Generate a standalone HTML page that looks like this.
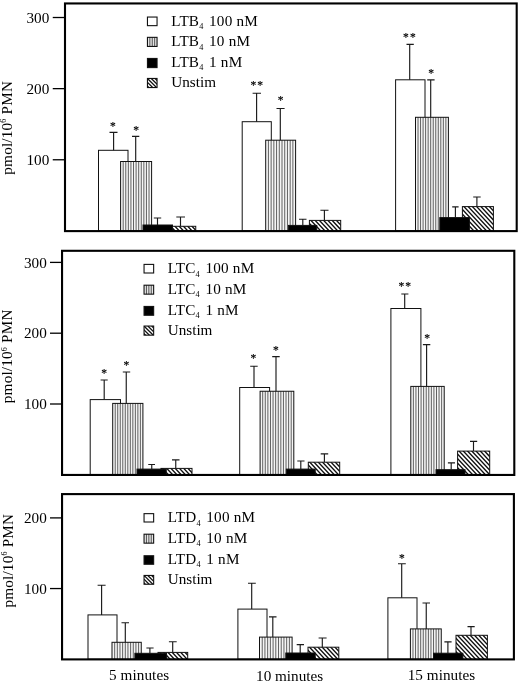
<!DOCTYPE html>
<html lang="en">
<head>
<meta charset="utf-8">
<title>Leukotriene stimulation chart</title>
<style>
html,body{margin:0;padding:0;background:#fff;}
body{width:520px;height:683px;overflow:hidden;}
svg{display:block;font-family:"Liberation Serif", "DejaVu Serif", serif;font-size:15.2px;fill:#000;}
</style>
</head>
<body>
<svg width="520" height="683" viewBox="0 0 520 683">
<rect width="520" height="683" fill="#fff"/>
<g id="panel1">
<clipPath id="hc1"><rect x="165" y="226.3" width="30.75" height="4.6"/></clipPath>
<rect x="165" y="226.3" width="30.75" height="4.6" fill="#fff"/>
<path clip-path="url(#hc1)" d="M157.07 225.3L163.23 231.9M161.32 225.3L167.48 231.9M165.57 225.3L171.73 231.9M169.82 225.3L175.98 231.9M174.07 225.3L180.23 231.9M178.32 225.3L184.48 231.9M182.57 225.3L188.73 231.9M186.82 225.3L192.98 231.9M191.07 225.3L197.23 231.9M195.32 225.3L201.48 231.9" stroke="#111" stroke-width="1.38" fill="none"/>
<rect x="165" y="226.3" width="30.75" height="4.6" fill="none" stroke="#111" stroke-width="1"/>
<rect x="98.5" y="150.3" width="29.5" height="80.6" fill="#fff" stroke="#111" stroke-width="1"/>
<rect x="120.6" y="161.5" width="31" height="69.4" fill="#f5f5f5"/>
<path d="M123.18 161.5V230.9M125.77 161.5V230.9M128.35 161.5V230.9M130.93 161.5V230.9M133.52 161.5V230.9M136.1 161.5V230.9M138.68 161.5V230.9M141.27 161.5V230.9M143.85 161.5V230.9M146.43 161.5V230.9M149.02 161.5V230.9" stroke="#606060" stroke-width="1" fill="none"/>
<rect x="120.6" y="161.5" width="31" height="69.4" fill="none" stroke="#111" stroke-width="1"/>
<rect x="143" y="225" width="29.5" height="5.9" fill="#000" stroke="#111" stroke-width="1"/>
<path d="M180.5 226.3V217M176.3 217H185" stroke="#1a1a1a" stroke-width="1.15" fill="none"/>
<path d="M113.6 150.3V132.3M109.5 132.3H117.5" stroke="#1a1a1a" stroke-width="1.15" fill="none"/>
<text x="113.36" y="130" text-anchor="middle" font-size="11.5" stroke="#000" stroke-width="0.2" letter-spacing="1.15">*</text>
<path d="M135.7 161.5V136.3M132 136.3H139.3" stroke="#1a1a1a" stroke-width="1.15" fill="none"/>
<text x="136.6" y="134" text-anchor="middle" font-size="11.5" stroke="#000" stroke-width="0.2" letter-spacing="1.15">*</text>
<path d="M157.5 225V218M153.8 218H161.2" stroke="#1a1a1a" stroke-width="1.15" fill="none"/>
<clipPath id="hc2"><rect x="309.4" y="220.4" width="31.3" height="10.5"/></clipPath>
<rect x="309.4" y="220.4" width="31.3" height="10.5" fill="#fff"/>
<path clip-path="url(#hc2)" d="M297.22 219.4L308.9 231.9M301.47 219.4L313.15 231.9M305.72 219.4L317.4 231.9M309.97 219.4L321.65 231.9M314.22 219.4L325.9 231.9M318.47 219.4L330.15 231.9M322.72 219.4L334.4 231.9M326.97 219.4L338.65 231.9M331.22 219.4L342.9 231.9M335.47 219.4L347.15 231.9M339.72 219.4L351.4 231.9" stroke="#111" stroke-width="1.38" fill="none"/>
<rect x="309.4" y="220.4" width="31.3" height="10.5" fill="none" stroke="#111" stroke-width="1"/>
<rect x="242.2" y="121.7" width="29.1" height="109.2" fill="#fff" stroke="#111" stroke-width="1"/>
<rect x="265.7" y="140.2" width="29.9" height="90.7" fill="#f5f5f5"/>
<path d="M268.42 140.2V230.9M271.14 140.2V230.9M273.85 140.2V230.9M276.57 140.2V230.9M279.29 140.2V230.9M282.01 140.2V230.9M284.73 140.2V230.9M287.45 140.2V230.9M290.16 140.2V230.9M292.88 140.2V230.9" stroke="#606060" stroke-width="1" fill="none"/>
<rect x="265.7" y="140.2" width="29.9" height="90.7" fill="none" stroke="#111" stroke-width="1"/>
<rect x="288.4" y="225.4" width="28.4" height="5.5" fill="#000" stroke="#111" stroke-width="1"/>
<path d="M324.4 220.4V210.2M320.4 210.2H328.5" stroke="#1a1a1a" stroke-width="1.15" fill="none"/>
<path d="M256.6 121.7V93.2M252.6 93.2H261" stroke="#1a1a1a" stroke-width="1.15" fill="none"/>
<text x="257.3" y="89.1" text-anchor="middle" font-size="11.5" stroke="#000" stroke-width="0.2" letter-spacing="1.15">**</text>
<path d="M280.3 140.2V108.5M276.5 108.5H284.6" stroke="#1a1a1a" stroke-width="1.15" fill="none"/>
<text x="281.2" y="103.5" text-anchor="middle" font-size="11.5" stroke="#000" stroke-width="0.2" letter-spacing="1.15">*</text>
<path d="M302.8 225.4V219.2M299 219.2H306.5" stroke="#1a1a1a" stroke-width="1.15" fill="none"/>
<clipPath id="hc3"><rect x="462.4" y="206.6" width="31" height="24.3"/></clipPath>
<rect x="462.4" y="206.6" width="31" height="24.3" fill="#fff"/>
<path clip-path="url(#hc3)" d="M437.47 205.6L462.04 231.9M441.72 205.6L466.29 231.9M445.97 205.6L470.54 231.9M450.22 205.6L474.79 231.9M454.47 205.6L479.04 231.9M458.72 205.6L483.29 231.9M462.97 205.6L487.54 231.9M467.22 205.6L491.79 231.9M471.47 205.6L496.04 231.9M475.72 205.6L500.29 231.9M479.97 205.6L504.54 231.9M484.22 205.6L508.79 231.9M488.47 205.6L513.04 231.9M492.72 205.6L517.29 231.9" stroke="#111" stroke-width="1.38" fill="none"/>
<rect x="462.4" y="206.6" width="31" height="24.3" fill="none" stroke="#111" stroke-width="1"/>
<rect x="395.6" y="79.8" width="29.4" height="151.1" fill="#fff" stroke="#111" stroke-width="1"/>
<rect x="415.5" y="117.3" width="32.9" height="113.6" fill="#f5f5f5"/>
<path d="M418.03 117.3V230.9M420.56 117.3V230.9M423.09 117.3V230.9M425.62 117.3V230.9M428.15 117.3V230.9M430.68 117.3V230.9M433.22 117.3V230.9M435.75 117.3V230.9M438.28 117.3V230.9M440.81 117.3V230.9M443.34 117.3V230.9M445.87 117.3V230.9" stroke="#606060" stroke-width="1" fill="none"/>
<rect x="415.5" y="117.3" width="32.9" height="113.6" fill="none" stroke="#111" stroke-width="1"/>
<rect x="439.8" y="217.6" width="29.6" height="13.3" fill="#000" stroke="#111" stroke-width="1"/>
<path d="M476.9 206.6V197M473.2 197H480.7" stroke="#1a1a1a" stroke-width="1.15" fill="none"/>
<path d="M409.7 79.8V44.3M406.5 44.3H413.8" stroke="#1a1a1a" stroke-width="1.15" fill="none"/>
<text x="410" y="40.5" text-anchor="middle" font-size="11.5" stroke="#000" stroke-width="0.2" letter-spacing="1.15">**</text>
<path d="M430.7 117.3V79.9M427.2 79.9H434.6" stroke="#1a1a1a" stroke-width="1.15" fill="none"/>
<text x="431.6" y="77.1" text-anchor="middle" font-size="11.5" stroke="#000" stroke-width="0.2" letter-spacing="1.15">*</text>
<path d="M455.4 217.6V206.9M452.2 206.9H458.6" stroke="#1a1a1a" stroke-width="1.15" fill="none"/>
<rect x="65" y="3.45" width="451.7" height="227.65" fill="none" stroke="#000" stroke-width="2.1"/>
<line x1="52.75" y1="159.77" x2="65" y2="159.77" stroke="#000" stroke-width="1.3"/>
<text x="49.3" y="164.87" text-anchor="end">100</text>
<line x1="52.75" y1="88.64" x2="65" y2="88.64" stroke="#000" stroke-width="1.3"/>
<text x="49.3" y="93.74" text-anchor="end">200</text>
<line x1="52.75" y1="17.51" x2="65" y2="17.51" stroke="#000" stroke-width="1.3"/>
<text x="49.3" y="22.61" text-anchor="end">300</text>
<text transform="translate(11.8 127.8) rotate(-90)" text-anchor="middle" letter-spacing="0.2">pmol/10<tspan font-size="8" dy="-5.5">6</tspan><tspan dy="5.5"> PMN</tspan></text>
<rect x="147.45" y="17.05" width="9.6" height="8.6" fill="#fff"/>
<rect x="147.45" y="17.05" width="9.6" height="8.6" fill="none" stroke="#111" stroke-width="1.1"/>
<text x="171.3" y="25.9" letter-spacing="0.2">LTB<tspan font-size="8.2" dy="3.4">4</tspan><tspan dy="-3.4" dx="1.6"> 100 nM</tspan></text>
<rect x="147.45" y="37.35" width="9.6" height="9.1" fill="#e4e4e4"/>
<line x1="149.85" y1="37.35" x2="149.85" y2="46.45" stroke="#444" stroke-width="0.9"/><line x1="152.25" y1="37.35" x2="152.25" y2="46.45" stroke="#444" stroke-width="0.9"/><line x1="154.65" y1="37.35" x2="154.65" y2="46.45" stroke="#444" stroke-width="0.9"/>
<rect x="147.45" y="37.35" width="9.6" height="9.1" fill="none" stroke="#111" stroke-width="1.1"/>
<text x="171.3" y="46.1" letter-spacing="0.2">LTB<tspan font-size="8.2" dy="3.4">4</tspan><tspan dy="-3.4" dx="1.6"> 10 nM</tspan></text>
<rect x="147.45" y="58.45" width="9.6" height="9.15" fill="#000"/>
<rect x="147.45" y="58.45" width="9.6" height="9.15" fill="none" stroke="#111" stroke-width="1.1"/>
<text x="171.3" y="67" letter-spacing="0.2">LTB<tspan font-size="8.2" dy="3.4">4</tspan><tspan dy="-3.4" dx="1.6"> 1 nM</tspan></text>
<clipPath id="c1"><rect x="147.45" y="78.45" width="9.6" height="9.1"/></clipPath>
<rect x="147.45" y="78.45" width="9.6" height="9.1" fill="#fff"/>
<g clip-path="url(#c1)" stroke="#111" stroke-width="1.3"><line x1="139.85" y1="78.45" x2="151.85" y2="90.45"/><line x1="143.65" y1="78.45" x2="155.65" y2="90.45"/><line x1="147.45" y1="78.45" x2="159.45" y2="90.45"/><line x1="151.25" y1="78.45" x2="163.25" y2="90.45"/><line x1="155.05" y1="78.45" x2="167.05" y2="90.45"/></g>
<rect x="147.45" y="78.45" width="9.6" height="9.1" fill="none" stroke="#111" stroke-width="1.1"/>
<text x="171.3" y="87" letter-spacing="0">Unstim</text>
</g>
<g id="panel2">
<clipPath id="hc4"><rect x="161" y="468.4" width="31" height="6.4"/></clipPath>
<rect x="161" y="468.4" width="31" height="6.4" fill="#fff"/>
<path clip-path="url(#hc4)" d="M153.07 467.4L160.92 475.8M157.32 467.4L165.17 475.8M161.57 467.4L169.42 475.8M165.82 467.4L173.67 475.8M170.07 467.4L177.92 475.8M174.32 467.4L182.17 475.8M178.57 467.4L186.42 475.8M182.82 467.4L190.67 475.8M187.07 467.4L194.92 475.8M191.32 467.4L199.17 475.8" stroke="#111" stroke-width="1.38" fill="none"/>
<rect x="161" y="468.4" width="31" height="6.4" fill="none" stroke="#111" stroke-width="1"/>
<rect x="90.2" y="399.6" width="30.3" height="75.2" fill="#fff" stroke="#111" stroke-width="1"/>
<rect x="112.7" y="403.4" width="30.2" height="71.4" fill="#f5f5f5"/>
<path d="M115.22 403.4V474.8M117.73 403.4V474.8M120.25 403.4V474.8M122.77 403.4V474.8M125.28 403.4V474.8M127.8 403.4V474.8M130.32 403.4V474.8M132.83 403.4V474.8M135.35 403.4V474.8M137.87 403.4V474.8M140.38 403.4V474.8" stroke="#606060" stroke-width="1" fill="none"/>
<rect x="112.7" y="403.4" width="30.2" height="71.4" fill="none" stroke="#111" stroke-width="1"/>
<rect x="137" y="469.1" width="29.25" height="5.7" fill="#000" stroke="#111" stroke-width="1"/>
<path d="M175.75 468.4V459.8M172 459.8H179.5" stroke="#1a1a1a" stroke-width="1.15" fill="none"/>
<path d="M104.2 399.6V380M100.6 380H107.7" stroke="#1a1a1a" stroke-width="1.15" fill="none"/>
<text x="104.7" y="377" text-anchor="middle" font-size="11.5" stroke="#000" stroke-width="0.2" letter-spacing="1.15">*</text>
<path d="M126.25 403.4V372M122.8 372H130.2" stroke="#1a1a1a" stroke-width="1.15" fill="none"/>
<text x="126.85" y="369" text-anchor="middle" font-size="11.5" stroke="#000" stroke-width="0.2" letter-spacing="1.15">*</text>
<path d="M151.75 469.1V464.5M148.25 464.5H155" stroke="#1a1a1a" stroke-width="1.15" fill="none"/>
<clipPath id="hc5"><rect x="308.3" y="462.2" width="31.4" height="12.6"/></clipPath>
<rect x="308.3" y="462.2" width="31.4" height="12.6" fill="#fff"/>
<path clip-path="url(#hc5)" d="M291.87 461.2L305.51 475.8M296.12 461.2L309.76 475.8M300.37 461.2L314.01 475.8M304.62 461.2L318.26 475.8M308.87 461.2L322.51 475.8M313.12 461.2L326.76 475.8M317.37 461.2L331.01 475.8M321.62 461.2L335.26 475.8M325.87 461.2L339.51 475.8M330.12 461.2L343.76 475.8M334.37 461.2L348.01 475.8M338.62 461.2L352.26 475.8" stroke="#111" stroke-width="1.38" fill="none"/>
<rect x="308.3" y="462.2" width="31.4" height="12.6" fill="none" stroke="#111" stroke-width="1"/>
<rect x="239.7" y="387.5" width="29.9" height="87.3" fill="#fff" stroke="#111" stroke-width="1"/>
<rect x="260.1" y="391.25" width="33.7" height="83.55" fill="#f5f5f5"/>
<path d="M262.69 391.25V474.8M265.28 391.25V474.8M267.88 391.25V474.8M270.47 391.25V474.8M273.06 391.25V474.8M275.65 391.25V474.8M278.25 391.25V474.8M280.84 391.25V474.8M283.43 391.25V474.8M286.02 391.25V474.8M288.62 391.25V474.8M291.21 391.25V474.8" stroke="#606060" stroke-width="1" fill="none"/>
<rect x="260.1" y="391.25" width="33.7" height="83.55" fill="none" stroke="#111" stroke-width="1"/>
<rect x="286.3" y="469.1" width="28.9" height="5.7" fill="#000" stroke="#111" stroke-width="1"/>
<path d="M324.4 462.2V453.8M320.7 453.8H328.2" stroke="#1a1a1a" stroke-width="1.15" fill="none"/>
<path d="M254 387.5V366.2M250.2 366.2H257.7" stroke="#1a1a1a" stroke-width="1.15" fill="none"/>
<text x="254" y="361.75" text-anchor="middle" font-size="11.5" stroke="#000" stroke-width="0.2" letter-spacing="1.15">*</text>
<path d="M276 391.25V356.6M272.2 356.6H279.7" stroke="#1a1a1a" stroke-width="1.15" fill="none"/>
<text x="276.5" y="354.25" text-anchor="middle" font-size="11.5" stroke="#000" stroke-width="0.2" letter-spacing="1.15">*</text>
<path d="M300.8 469.1V461M297.3 461H304.5" stroke="#1a1a1a" stroke-width="1.15" fill="none"/>
<clipPath id="hc6"><rect x="457.6" y="451.1" width="32.1" height="23.7"/></clipPath>
<rect x="457.6" y="451.1" width="32.1" height="23.7" fill="#fff"/>
<path clip-path="url(#hc6)" d="M432.67 450.1L456.68 475.8M436.92 450.1L460.93 475.8M441.17 450.1L465.18 475.8M445.42 450.1L469.43 475.8M449.67 450.1L473.68 475.8M453.92 450.1L477.93 475.8M458.17 450.1L482.18 475.8M462.42 450.1L486.43 475.8M466.67 450.1L490.68 475.8M470.92 450.1L494.93 475.8M475.17 450.1L499.18 475.8M479.42 450.1L503.43 475.8M483.67 450.1L507.68 475.8M487.92 450.1L511.93 475.8" stroke="#111" stroke-width="1.38" fill="none"/>
<rect x="457.6" y="451.1" width="32.1" height="23.7" fill="none" stroke="#111" stroke-width="1"/>
<rect x="390.9" y="308.5" width="30" height="166.3" fill="#fff" stroke="#111" stroke-width="1"/>
<rect x="410.8" y="386.4" width="33.4" height="88.4" fill="#f5f5f5"/>
<path d="M413.37 386.4V474.8M415.94 386.4V474.8M418.51 386.4V474.8M421.08 386.4V474.8M423.65 386.4V474.8M426.22 386.4V474.8M428.78 386.4V474.8M431.35 386.4V474.8M433.92 386.4V474.8M436.49 386.4V474.8M439.06 386.4V474.8M441.63 386.4V474.8" stroke="#606060" stroke-width="1" fill="none"/>
<rect x="410.8" y="386.4" width="33.4" height="88.4" fill="none" stroke="#111" stroke-width="1"/>
<rect x="436" y="469.7" width="29" height="5.1" fill="#000" stroke="#111" stroke-width="1"/>
<path d="M473.5 451.1V441.3M470 441.3H477.2" stroke="#1a1a1a" stroke-width="1.15" fill="none"/>
<path d="M404.7 308.5V294M401.3 294H408.4" stroke="#1a1a1a" stroke-width="1.15" fill="none"/>
<text x="405.3" y="289.9" text-anchor="middle" font-size="11.5" stroke="#000" stroke-width="0.2" letter-spacing="1.15">**</text>
<path d="M426.6 386.4V344.6M422.9 344.6H430.3" stroke="#1a1a1a" stroke-width="1.15" fill="none"/>
<text x="427.7" y="342.4" text-anchor="middle" font-size="11.5" stroke="#000" stroke-width="0.2" letter-spacing="1.15">*</text>
<path d="M451.2 469.7V462.9M447.9 462.9H455" stroke="#1a1a1a" stroke-width="1.15" fill="none"/>
<rect x="62.05" y="250.8" width="452.25" height="224.15" fill="none" stroke="#000" stroke-width="2.1"/>
<line x1="50" y1="404" x2="62.05" y2="404" stroke="#000" stroke-width="1.3"/>
<text x="46.8" y="409.1" text-anchor="end">100</text>
<line x1="50" y1="333.2" x2="62.05" y2="333.2" stroke="#000" stroke-width="1.3"/>
<text x="46.8" y="338.3" text-anchor="end">200</text>
<line x1="50" y1="262.4" x2="62.05" y2="262.4" stroke="#000" stroke-width="1.3"/>
<text x="46.8" y="267.5" text-anchor="end">300</text>
<text transform="translate(12.1 356.3) rotate(-90)" text-anchor="middle" letter-spacing="0.2">pmol/10<tspan font-size="8" dy="-5.5">6</tspan><tspan dy="5.5"> PMN</tspan></text>
<rect x="144.05" y="264.4" width="9.6" height="8.6" fill="#fff"/>
<rect x="144.05" y="264.4" width="9.6" height="8.6" fill="none" stroke="#111" stroke-width="1.1"/>
<text x="167.7" y="273.1" letter-spacing="0.2">LTC<tspan font-size="8.2" dy="3.4">4</tspan><tspan dy="-3.4" dx="1.6"> 100 nM</tspan></text>
<rect x="144.05" y="285.2" width="9.6" height="8.95" fill="#e4e4e4"/>
<line x1="146.45" y1="285.2" x2="146.45" y2="294.15" stroke="#444" stroke-width="0.9"/><line x1="148.85" y1="285.2" x2="148.85" y2="294.15" stroke="#444" stroke-width="0.9"/><line x1="151.25" y1="285.2" x2="151.25" y2="294.15" stroke="#444" stroke-width="0.9"/>
<rect x="144.05" y="285.2" width="9.6" height="8.95" fill="none" stroke="#111" stroke-width="1.1"/>
<text x="167.7" y="293.5" letter-spacing="0.2">LTC<tspan font-size="8.2" dy="3.4">4</tspan><tspan dy="-3.4" dx="1.6"> 10 nM</tspan></text>
<rect x="144.05" y="306.45" width="9.6" height="8.8" fill="#000"/>
<rect x="144.05" y="306.45" width="9.6" height="8.8" fill="none" stroke="#111" stroke-width="1.1"/>
<text x="167.7" y="314.6" letter-spacing="0.2">LTC<tspan font-size="8.2" dy="3.4">4</tspan><tspan dy="-3.4" dx="1.6"> 1 nM</tspan></text>
<clipPath id="c2"><rect x="144.05" y="326.05" width="9.6" height="9.1"/></clipPath>
<rect x="144.05" y="326.05" width="9.6" height="9.1" fill="#fff"/>
<g clip-path="url(#c2)" stroke="#111" stroke-width="1.3"><line x1="136.45" y1="326.05" x2="148.45" y2="338.05"/><line x1="140.25" y1="326.05" x2="152.25" y2="338.05"/><line x1="144.05" y1="326.05" x2="156.05" y2="338.05"/><line x1="147.85" y1="326.05" x2="159.85" y2="338.05"/><line x1="151.65" y1="326.05" x2="163.65" y2="338.05"/></g>
<rect x="144.05" y="326.05" width="9.6" height="9.1" fill="none" stroke="#111" stroke-width="1.1"/>
<text x="167.7" y="334.8" letter-spacing="0">Unstim</text>
</g>
<g id="panel3">
<clipPath id="hc7"><rect x="158" y="652.4" width="29.7" height="6.8"/></clipPath>
<rect x="158" y="652.4" width="29.7" height="6.8" fill="#fff"/>
<path clip-path="url(#hc7)" d="M150.07 651.4L158.29 660.2M154.32 651.4L162.54 660.2M158.57 651.4L166.79 660.2M162.82 651.4L171.04 660.2M167.07 651.4L175.29 660.2M171.32 651.4L179.54 660.2M175.57 651.4L183.79 660.2M179.82 651.4L188.04 660.2M184.07 651.4L192.29 660.2M188.32 651.4L196.54 660.2" stroke="#111" stroke-width="1.38" fill="none"/>
<rect x="158" y="652.4" width="29.7" height="6.8" fill="none" stroke="#111" stroke-width="1"/>
<rect x="88" y="614.9" width="29" height="44.3" fill="#fff" stroke="#111" stroke-width="1"/>
<rect x="112" y="642.3" width="29.25" height="16.9" fill="#f5f5f5"/>
<path d="M114.66 642.3V659.2M117.32 642.3V659.2M119.98 642.3V659.2M122.64 642.3V659.2M125.3 642.3V659.2M127.95 642.3V659.2M130.61 642.3V659.2M133.27 642.3V659.2M135.93 642.3V659.2M138.59 642.3V659.2" stroke="#606060" stroke-width="1" fill="none"/>
<rect x="112" y="642.3" width="29.25" height="16.9" fill="none" stroke="#111" stroke-width="1"/>
<rect x="134.9" y="653.3" width="31.7" height="5.9" fill="#000" stroke="#111" stroke-width="1"/>
<path d="M172.7 652.4V641.7M168.9 641.7H176.7" stroke="#1a1a1a" stroke-width="1.15" fill="none"/>
<path d="M101.6 614.9V585.2M97.6 585.2H105.6" stroke="#1a1a1a" stroke-width="1.15" fill="none"/>
<path d="M125.3 642.3V622.7M121.5 622.7H129" stroke="#1a1a1a" stroke-width="1.15" fill="none"/>
<path d="M149.9 653.3V648M146.4 648H153.6" stroke="#1a1a1a" stroke-width="1.15" fill="none"/>
<clipPath id="hc8"><rect x="308" y="647.2" width="30.8" height="12"/></clipPath>
<rect x="308" y="647.2" width="30.8" height="12" fill="#fff"/>
<path clip-path="url(#hc8)" d="M291.57 646.2L304.65 660.2M295.82 646.2L308.9 660.2M300.07 646.2L313.15 660.2M304.32 646.2L317.4 660.2M308.57 646.2L321.65 660.2M312.82 646.2L325.9 660.2M317.07 646.2L330.15 660.2M321.32 646.2L334.4 660.2M325.57 646.2L338.65 660.2M329.82 646.2L342.9 660.2M334.07 646.2L347.15 660.2M338.32 646.2L351.4 660.2" stroke="#111" stroke-width="1.38" fill="none"/>
<rect x="308" y="647.2" width="30.8" height="12" fill="none" stroke="#111" stroke-width="1"/>
<rect x="237.9" y="609.1" width="29.1" height="50.1" fill="#fff" stroke="#111" stroke-width="1"/>
<rect x="259.5" y="637.1" width="32.6" height="22.1" fill="#f5f5f5"/>
<path d="M262.22 637.1V659.2M264.93 637.1V659.2M267.65 637.1V659.2M270.37 637.1V659.2M273.08 637.1V659.2M275.8 637.1V659.2M278.52 637.1V659.2M281.23 637.1V659.2M283.95 637.1V659.2M286.67 637.1V659.2M289.38 637.1V659.2" stroke="#606060" stroke-width="1" fill="none"/>
<rect x="259.5" y="637.1" width="32.6" height="22.1" fill="none" stroke="#111" stroke-width="1"/>
<rect x="285.8" y="653" width="29.4" height="6.2" fill="#000" stroke="#111" stroke-width="1"/>
<path d="M322.3 647.2V638M318.6 638H326.6" stroke="#1a1a1a" stroke-width="1.15" fill="none"/>
<path d="M251.7 609.1V583.2M248 583.2H255.8" stroke="#1a1a1a" stroke-width="1.15" fill="none"/>
<path d="M272.8 637.1V616.9M269 616.9H276.5" stroke="#1a1a1a" stroke-width="1.15" fill="none"/>
<path d="M300.2 653V644.6M296.7 644.6H304" stroke="#1a1a1a" stroke-width="1.15" fill="none"/>
<clipPath id="hc9"><rect x="456" y="635.3" width="31.4" height="23.9"/></clipPath>
<rect x="456" y="635.3" width="31.4" height="23.9" fill="#fff"/>
<path clip-path="url(#hc9)" d="M431.07 634.3L455.27 660.2M435.32 634.3L459.52 660.2M439.57 634.3L463.77 660.2M443.82 634.3L468.02 660.2M448.07 634.3L472.27 660.2M452.32 634.3L476.52 660.2M456.57 634.3L480.77 660.2M460.82 634.3L485.02 660.2M465.07 634.3L489.27 660.2M469.32 634.3L493.52 660.2M473.57 634.3L497.77 660.2M477.82 634.3L502.02 660.2M482.07 634.3L506.27 660.2M486.32 634.3L510.52 660.2" stroke="#111" stroke-width="1.38" fill="none"/>
<rect x="456" y="635.3" width="31.4" height="23.9" fill="none" stroke="#111" stroke-width="1"/>
<rect x="387.9" y="597.8" width="29.1" height="61.4" fill="#fff" stroke="#111" stroke-width="1"/>
<rect x="410.4" y="628.9" width="30.85" height="30.3" fill="#f5f5f5"/>
<path d="M412.97 628.9V659.2M415.54 628.9V659.2M418.11 628.9V659.2M420.68 628.9V659.2M423.25 628.9V659.2M425.82 628.9V659.2M428.4 628.9V659.2M430.97 628.9V659.2M433.54 628.9V659.2M436.11 628.9V659.2M438.68 628.9V659.2" stroke="#606060" stroke-width="1" fill="none"/>
<rect x="410.4" y="628.9" width="30.85" height="30.3" fill="none" stroke="#111" stroke-width="1"/>
<rect x="433.5" y="653.2" width="29.4" height="6" fill="#000" stroke="#111" stroke-width="1"/>
<path d="M471 635.3V626.6M467.5 626.6H474.7" stroke="#1a1a1a" stroke-width="1.15" fill="none"/>
<path d="M401.7 597.8V563.75M398 563.75H405.8" stroke="#1a1a1a" stroke-width="1.15" fill="none"/>
<text x="402.5" y="562.1" text-anchor="middle" font-size="11.5" stroke="#000" stroke-width="0.2" letter-spacing="1.15">*</text>
<path d="M426.25 628.9V603M422.5 603H430" stroke="#1a1a1a" stroke-width="1.15" fill="none"/>
<path d="M447.9 653.2V641.9M444.4 641.9H451.6" stroke="#1a1a1a" stroke-width="1.15" fill="none"/>
<rect x="62.05" y="494.1" width="451.85" height="165.3" fill="none" stroke="#000" stroke-width="2.1"/>
<line x1="50" y1="588.55" x2="62.05" y2="588.55" stroke="#000" stroke-width="1.3"/>
<text x="46.8" y="593.65" text-anchor="end">100</text>
<line x1="50" y1="517.9" x2="62.05" y2="517.9" stroke="#000" stroke-width="1.3"/>
<text x="46.8" y="523" text-anchor="end">200</text>
<text transform="translate(12.9 560.7) rotate(-90)" text-anchor="middle" letter-spacing="0.2">pmol/10<tspan font-size="8" dy="-5.5">6</tspan><tspan dy="5.5"> PMN</tspan></text>
<rect x="144.05" y="513.65" width="9.6" height="8.35" fill="#fff"/>
<rect x="144.05" y="513.65" width="9.6" height="8.35" fill="none" stroke="#111" stroke-width="1.1"/>
<text x="167.7" y="522.4" letter-spacing="0.2">LTD<tspan font-size="8.2" dy="3.4">4</tspan><tspan dy="-3.4" dx="1.6"> 100 nM</tspan></text>
<rect x="144.05" y="534.2" width="9.6" height="8.95" fill="#e4e4e4"/>
<line x1="146.45" y1="534.2" x2="146.45" y2="543.15" stroke="#444" stroke-width="0.9"/><line x1="148.85" y1="534.2" x2="148.85" y2="543.15" stroke="#444" stroke-width="0.9"/><line x1="151.25" y1="534.2" x2="151.25" y2="543.15" stroke="#444" stroke-width="0.9"/>
<rect x="144.05" y="534.2" width="9.6" height="8.95" fill="none" stroke="#111" stroke-width="1.1"/>
<text x="167.7" y="542.8" letter-spacing="0.2">LTD<tspan font-size="8.2" dy="3.4">4</tspan><tspan dy="-3.4" dx="1.6"> 10 nM</tspan></text>
<rect x="144.05" y="555.75" width="9.6" height="8.5" fill="#000"/>
<rect x="144.05" y="555.75" width="9.6" height="8.5" fill="none" stroke="#111" stroke-width="1.1"/>
<text x="167.7" y="563.7" letter-spacing="0.2">LTD<tspan font-size="8.2" dy="3.4">4</tspan><tspan dy="-3.4" dx="1.6"> 1 nM</tspan></text>
<clipPath id="c3"><rect x="144.05" y="575.45" width="9.6" height="8.8"/></clipPath>
<rect x="144.05" y="575.45" width="9.6" height="8.8" fill="#fff"/>
<g clip-path="url(#c3)" stroke="#111" stroke-width="1.3"><line x1="136.45" y1="575.45" x2="148.45" y2="587.45"/><line x1="140.25" y1="575.45" x2="152.25" y2="587.45"/><line x1="144.05" y1="575.45" x2="156.05" y2="587.45"/><line x1="147.85" y1="575.45" x2="159.85" y2="587.45"/><line x1="151.65" y1="575.45" x2="163.65" y2="587.45"/></g>
<rect x="144.05" y="575.45" width="9.6" height="8.8" fill="none" stroke="#111" stroke-width="1.1"/>
<text x="167.7" y="584.2" letter-spacing="0">Unstim</text>
</g>
<text x="139.1" y="680" text-anchor="middle" letter-spacing="0.1">5 minutes</text>
<text x="289.6" y="681.1" text-anchor="middle" letter-spacing="0">10 minutes</text>
<text x="441.5" y="679.9" text-anchor="middle" letter-spacing="0.05">15 minutes</text>
</svg>
</body>
</html>
